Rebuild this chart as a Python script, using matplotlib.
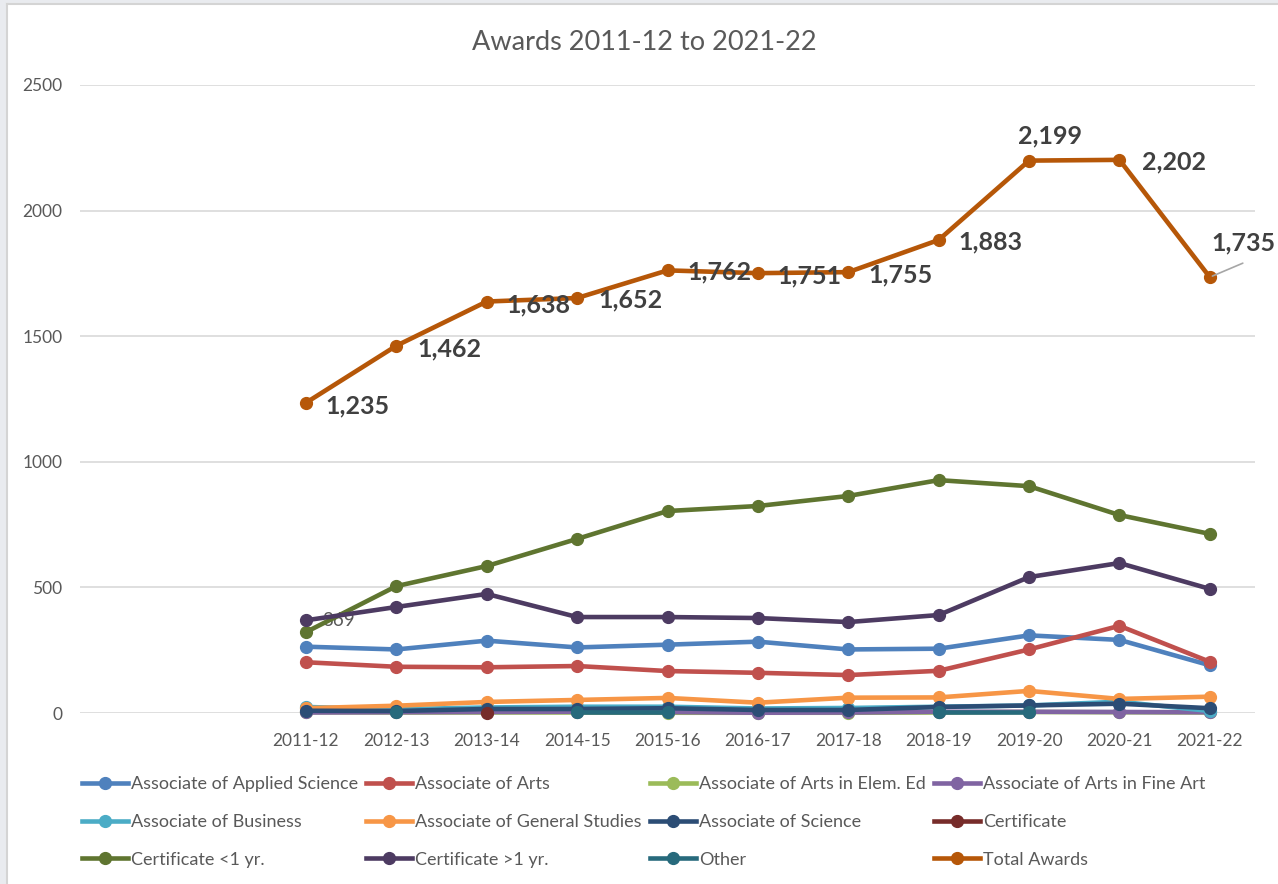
import numpy as np
import matplotlib.pyplot as plt
from matplotlib.lines import Line2D
from matplotlib.patches import Rectangle

plt.rcParams['font.family'] = ['Lato', 'DejaVu Sans']

years = ['2011-12', '2012-13', '2013-14', '2014-15', '2015-16', '2016-17',
         '2017-18', '2018-19', '2019-20', '2020-21', '2021-22']
nan = np.nan

applied_science = [264, 253, 288, 261, 272, 284, 253, 256, 309, 291, 190]
arts = [202, 184, 182, 187, 167, 160, 151, 168, 253, 347, 204]
arts_elem_ed = [3, 2, 2, 2, 1, 1, 1, 2, 4, 3, 2]
arts_fine_art = [2, 3, 4, 5, 4, 1, 2, 5, 5, 4, 3]
business = [24, 15, 22, 25, 25, 18, 20, 25, 30, 45, 8]
general_studies = [19, 29, 44, 52, 60, 41, 61, 62, 88, 56, 65]
science = [9, 8, 16, 16, 19, 12, 12, 24, 30, 37, 19]
certificate = [nan, nan, 1, nan, nan, nan, nan, nan, nan, nan, nan]
cert_lt_1yr = [322, 505, 585, 693, 804, 824, 864, 927, 903, 788, 713]
cert_gt_1yr = [369, 422, 474, 382, 382, 378, 362, 390, 541, 597, 494]
other = [nan, 2, nan, 2, 2, nan, nan, 3, 3, nan, nan]
total = [1235, 1462, 1638, 1652, 1762, 1751, 1755, 1883, 2199, 2202, 1735]

series = [
    ('Associate of Applied Science', applied_science, '#4F81BD'),
    ('Associate of Arts', arts, '#C0504D'),
    ('Associate of Arts in Elem. Ed', arts_elem_ed, '#9BBB59'),
    ('Associate of Arts in Fine Art', arts_fine_art, '#8064A2'),
    ('Associate of Business', business, '#4BACC6'),
    ('Associate of General Studies', general_studies, '#F79646'),
    ('Associate of Science', science, '#2C4D75'),
    ('Certificate', certificate, '#772C2A'),
    ('Certificate <1 yr.', cert_lt_1yr, '#5F7530'),
    ('Certificate >1 yr.', cert_gt_1yr, '#4D3B62'),
    ('Other', other, '#276A7C'),
    ('Total Awards', total, '#B65708'),
]

W, H = 1278, 884
fig = plt.figure(figsize=(W / 100, H / 100), dpi=100)
fig.patch.set_facecolor('white')

# window edge + chart frame
fig.patches.append(Rectangle((0, 0), 6 / W, 1, transform=fig.transFigure,
                             facecolor='#e9ebef', edgecolor='none', zorder=0))
fig.add_artist(Line2D([7 / W, 7 / W], [0, 1 - 4 / H], color='#d4d4d4', lw=1.5))
fig.add_artist(Line2D([7 / W, 1], [1 - 4 / H, 1 - 4 / H], color='#d4d4d4', lw=1.5))
fig.patches.append(Rectangle((0, 1 - 3 / H), 1, 3 / H, transform=fig.transFigure,
                             facecolor='#e9ebef', edgecolor='none', zorder=0))

ax = fig.add_axes([80 / W, 1 - 713 / H, (1255 - 80) / W, (713 - 85) / H])
x = np.arange(len(years))

handles = []
for name, vals, col in series:
    ln, = ax.plot(x, vals, '-o', color=col, lw=3.3, markersize=8.5,
                  label=name, clip_on=False, zorder=3)
    handles.append(ln)

ax.set_xlim(-2.5, 10.5)
ax.set_ylim(0, 2500)
ax.set_yticks(range(0, 2501, 500))
ax.set_xticks(x)
ax.set_xticklabels(years)
ax.grid(axis='y', color='#d9d9d9', lw=1.2)
ax.set_axisbelow(True)
for sp in ax.spines.values():
    sp.set_visible(False)
ax.tick_params(axis='both', length=0, labelsize=12.5, colors='#595959')
ax.tick_params(axis='x', pad=14.5)
ax.tick_params(axis='y', pad=12.5)

# data labels on the total line (offsets in pixels: dx to text, dy down)
label_offsets = [(19, 3), (21, 3), (20, 3), (21, 2), (20, 2), (20, 3),
                 (20, 3), (20, 2), (21, -25), (23, 2), (2, -34)]
for i, v in enumerate(total):
    dx, dy = label_offsets[i]
    ha = 'center' if i == 8 else 'left'
    ax.annotate(f'{v:,}', (x[i], v), xytext=(dx * 0.72, -dy * 0.72),
                textcoords='offset points', ha=ha, va='center',
                fontsize=18, fontweight='bold', color='#404040', zorder=5)
# leader line for the last label
ax.annotate('', (x[10], total[10]), xytext=(33 * 0.72, 14 * 0.72),
            textcoords='offset points',
            arrowprops=dict(arrowstyle='-', color='#a6a6a6', lw=1.2,
                            shrinkA=0, shrinkB=2), zorder=4)

ax.annotate(f'{cert_gt_1yr[0]}', (x[0], cert_gt_1yr[0]), xytext=(16 * 0.72, 0),
            textcoords='offset points', ha='left', va='center',
            fontsize=13.5, color='#595959', zorder=2)

fig.text(644 / W, 1 - 42 / H, 'Awards 2011-12 to 2021-22', ha='center',
         va='center', fontsize=19.5, color='#595959')

# legend: four columns, three rows, filled row by row
col_x = [82, 366, 650, 934]
for c in range(4):
    hs = [handles[r * 4 + c] for r in range(3)]
    fig.legend(handles=hs, loc='center left',
               bbox_to_anchor=(col_x[c] / W, 1 - 822 / H),
               frameon=False, fontsize=13, handlelength=2.55,
               handletextpad=0.15, borderpad=0, borderaxespad=0,
               labelspacing=1.2, labelcolor='#595959')

fig.savefig('out.png', dpi=100)
